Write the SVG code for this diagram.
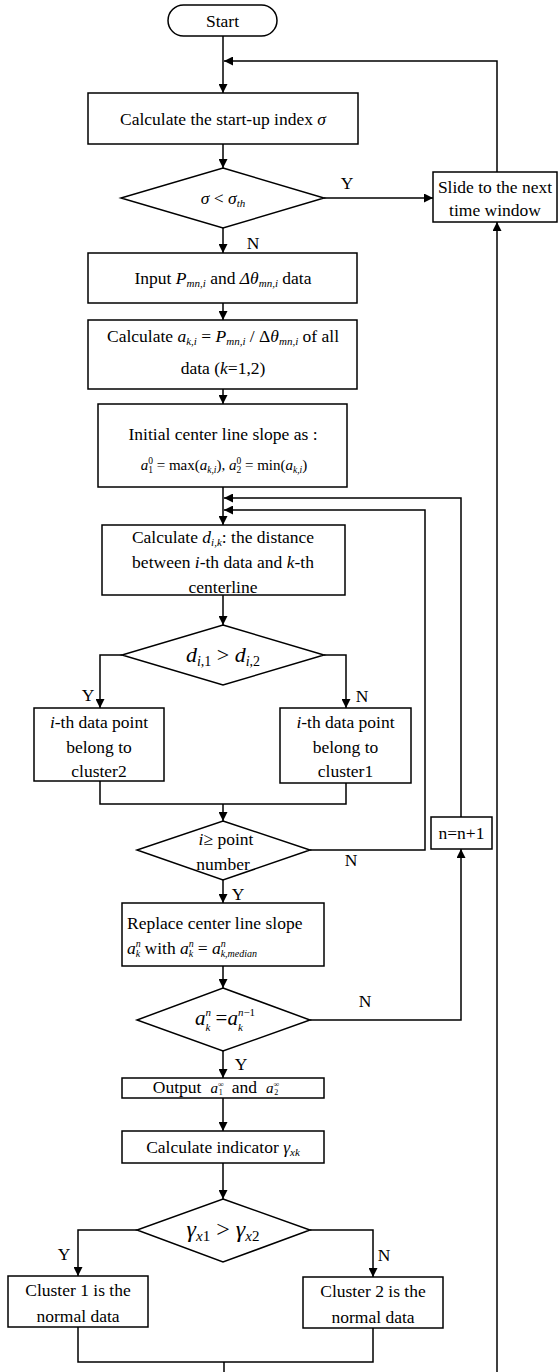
<svg xmlns="http://www.w3.org/2000/svg" width="558" height="1372" viewBox="0 0 558 1372">
<style>
.t{font-family:"Liberation Serif","Times New Roman",serif;font-size:17.5px;fill:#000}
.m{text-anchor:middle}
.i{font-style:italic}
.s{font-size:11px}
.b{fill:#fff;stroke:#000;stroke-width:1.5}
.ln{fill:none;stroke:#000;stroke-width:1.5}
</style>
<defs>
<marker id="ah" viewBox="0 0 10 10" refX="10" refY="5" markerWidth="9" markerHeight="9" markerUnits="userSpaceOnUse" orient="auto">
<path d="M0,0 L10,5 L0,10 z" fill="#000"/>
</marker>
</defs>

<g id="connectors" class="ln">
<path d="M223,36 V93" marker-end="url(#ah)"/>
<path d="M497,172 V61 H224" marker-end="url(#ah)"/>
<path d="M223,144 V168" marker-end="url(#ah)"/>
<path d="M324,198 H433" marker-end="url(#ah)"/>
<path d="M223,228 V253" marker-end="url(#ah)"/>
<path d="M223,303 V320" marker-end="url(#ah)"/>
<path d="M223,389 V404" marker-end="url(#ah)"/>
<path d="M223,487 V525" marker-end="url(#ah)"/>
<path d="M461,817 V498 H224" marker-end="url(#ah)"/>
<path d="M310,850 H425 V510 H224" marker-end="url(#ah)"/>
<path d="M223,595 V625" marker-end="url(#ah)"/>
<path d="M122,655 H100 V708" marker-end="url(#ah)"/>
<path d="M324,655 H346 V708" marker-end="url(#ah)"/>
<path d="M100,781 V804 H346 V783"/>
<path d="M223,804 V821" marker-end="url(#ah)"/>
<path d="M223,880 V903" marker-end="url(#ah)"/>
<path d="M223,966 V988" marker-end="url(#ah)"/>
<path d="M310,1020 H461 V849" marker-end="url(#ah)"/>
<path d="M223,1051 V1078" marker-end="url(#ah)"/>
<path d="M223,1098 V1131" marker-end="url(#ah)"/>
<path d="M223,1163 V1199" marker-end="url(#ah)"/>
<path d="M137,1230 H78 V1276" marker-end="url(#ah)"/>
<path d="M310,1230 H373 V1277" marker-end="url(#ah)"/>
<path d="M78,1327 V1362 H373 V1328"/>
<path d="M224,1362 V1372"/>
<path d="M497,1372 V222" marker-end="url(#ah)"/>
</g>

<g id="labels" class="t m">
<text x="347" y="189">Y</text>
<text x="253" y="249">N</text>
<text x="88" y="701">Y</text>
<text x="362" y="702">N</text>
<text x="351" y="866">N</text>
<text x="238" y="900">Y</text>
<text x="365" y="1007">N</text>
<text x="241" y="1070">Y</text>
<text x="64" y="1260">Y</text>
<text x="384" y="1261">N</text>
</g>

<g id="start">
<rect class="b" x="168" y="5" width="109" height="31" rx="15.5"/>
<text class="t m" x="222.5" y="27">Start</text>
</g>

<g id="calc-sigma">
<rect class="b" x="88" y="93" width="270" height="51"/>
<text class="t m" x="223" y="125">Calculate the start-up index <tspan class="i">σ</tspan></text>
</g>

<g id="dec-sigma">
<polygon class="b" points="223,168 324,198 223,228 121,198"/>
<text class="t m" x="223" y="204"><tspan class="i">σ</tspan> &lt; <tspan class="i">σ</tspan><tspan class="s i" dy="3">th</tspan></text>
</g>

<g id="slide">
<rect class="b" x="433" y="172" width="124" height="50"/>
<text class="t m" x="495" y="193">Slide to the next</text>
<text class="t m" x="495" y="216">time window</text>
</g>

<g id="input">
<rect class="b" x="88" y="253" width="269" height="50"/>
<text class="t m" x="223" y="284">Input <tspan class="i">P</tspan><tspan class="s i" dy="3">mn,i</tspan><tspan dy="-3"> and </tspan><tspan class="i">Δθ</tspan><tspan class="s i" dy="3">mn,i</tspan><tspan dy="-3"> data</tspan></text>
</g>

<g id="calc-a">
<rect class="b" x="88" y="320" width="269" height="69"/>
<text class="t m" x="223" y="342">Calculate <tspan class="i">a</tspan><tspan class="s i" dy="3">k,i</tspan><tspan dy="-3"> = </tspan><tspan class="i">P</tspan><tspan class="s i" dy="3">mn,i</tspan><tspan dy="-3"> / Δ</tspan><tspan class="i">θ</tspan><tspan class="s i" dy="3">mn,i</tspan><tspan dy="-3"> of all</tspan></text>
<text class="t m" x="223" y="374">data (<tspan class="i">k</tspan>=1,2)</text>
</g>

<g id="initial">
<rect class="b" x="98" y="404" width="249" height="83"/>
<text class="t m" x="223" y="440">Initial center line slope as :</text>
<text class="t m" x="224" y="470" style="font-size:15px"><tspan class="i">a</tspan><tspan style="font-size:9.5px" dy="-6">0</tspan><tspan style="font-size:9.5px" dx="-4.8" dy="9">1</tspan><tspan dy="-3"> = max(</tspan><tspan class="i">a</tspan><tspan class="i" style="font-size:9.5px" dy="3">k,i</tspan><tspan dy="-3">), </tspan><tspan class="i">a</tspan><tspan style="font-size:9.5px" dy="-6">0</tspan><tspan style="font-size:9.5px" dx="-4.8" dy="9">2</tspan><tspan dy="-3"> = min(</tspan><tspan class="i">a</tspan><tspan class="i" style="font-size:9.5px" dy="3">k,i</tspan><tspan dy="-3">)</tspan></text>
</g>

<g id="calc-d">
<rect class="b" x="102" y="525" width="243" height="70"/>
<text class="t m" x="223" y="543">Calculate <tspan class="i">d</tspan><tspan class="s i" dy="3">i,k</tspan><tspan dy="-3">: the distance</tspan></text>
<text class="t m" x="223" y="568">between <tspan class="i">i</tspan>-th data and <tspan class="i">k</tspan>-th</text>
<text class="t m" x="223" y="593">centerline</text>
</g>

<g id="dec-d">
<polygon class="b" points="223,625 324,655 223,685 122,655"/>
<text class="t m" x="223" y="662" style="font-size:22px"><tspan class="i">d</tspan><tspan style="font-size:14px" dy="4"><tspan class="i">i</tspan>,1</tspan><tspan dy="-4"> &gt; </tspan><tspan class="i">d</tspan><tspan style="font-size:14px" dy="4"><tspan class="i">i</tspan>,2</tspan></text>
</g>

<g id="cluster2">
<rect class="b" x="34" y="708" width="130" height="73"/>
<text class="t m" x="99" y="728"><tspan class="i">i</tspan>-th data point</text>
<text class="t m" x="99" y="753">belong to</text>
<text class="t m" x="99" y="777">cluster2</text>
</g>

<g id="cluster1">
<rect class="b" x="280" y="708" width="131" height="75"/>
<text class="t m" x="345.5" y="728"><tspan class="i">i</tspan>-th data point</text>
<text class="t m" x="345.5" y="753">belong to</text>
<text class="t m" x="345.5" y="777">cluster1</text>
</g>

<g id="dec-i">
<polygon class="b" points="223,821 310,850 223,880 137,850"/>
<text class="t m" x="226" y="845"><tspan class="i">i</tspan>≥ point</text>
<text class="t m" x="223" y="870">number</text>
</g>

<g id="n-inc">
<rect class="b" x="431" y="817" width="61" height="32"/>
<text class="t m" x="461.5" y="839">n=n+1</text>
</g>

<g id="replace">
<rect class="b" x="122" y="903" width="202" height="63"/>
<text class="t" x="127" y="929">Replace center line slope</text>
<text class="t" x="127" y="954"><tspan class="i">a</tspan><tspan class="i" style="font-size:10px" dy="-7">n</tspan><tspan class="i" style="font-size:10px" dx="-5" dy="10">k</tspan><tspan dy="-3"> with </tspan><tspan class="i">a</tspan><tspan class="i" style="font-size:10px" dy="-7">n</tspan><tspan class="i" style="font-size:10px" dx="-5" dy="10">k</tspan><tspan dy="-3"> = </tspan><tspan class="i">a</tspan><tspan class="i" style="font-size:10px" dy="-7">n</tspan><tspan class="i" style="font-size:10px" dx="-5" dy="10">k,median</tspan></text>
</g>

<g id="dec-a">
<polygon class="b" points="223,988 310,1020 223,1051 137,1020"/>
<text class="t m" x="225" y="1025" style="font-size:21px"><tspan class="i">a</tspan><tspan class="i" style="font-size:11px" dy="-9">n</tspan><tspan class="i" style="font-size:11px" dx="-5.5" dy="15">k</tspan><tspan dy="-6"> =</tspan><tspan class="i">a</tspan><tspan style="font-size:11px" dy="-9"><tspan class="i">n</tspan>−1</tspan><tspan class="i" style="font-size:11px" dx="-17" dy="15">k</tspan></text>
</g>

<g id="output">
<rect class="b" x="122" y="1078" width="202" height="20"/>
<text class="t m" x="216" y="1093">Output<tspan class="i" style="font-size:15px" dx="9">a</tspan><tspan style="font-size:8px" dy="-6">∞</tspan><tspan style="font-size:8px" dx="-5" dy="8">1</tspan><tspan dx="9" dy="-2">and</tspan><tspan class="i" style="font-size:15px" dx="9">a</tspan><tspan style="font-size:8px" dy="-6">∞</tspan><tspan style="font-size:8px" dx="-5" dy="8">2</tspan></text>
</g>

<g id="indicator">
<rect class="b" x="122" y="1131" width="202" height="32"/>
<text class="t m" x="223" y="1153">Calculate indicator <tspan class="i">γ</tspan><tspan class="s i" dy="3">xk</tspan></text>
</g>

<g id="dec-gamma">
<polygon class="b" points="223,1199 310,1230 223,1262 137,1230"/>
<text class="t m" x="223" y="1237" style="font-size:24px"><tspan class="i">γ</tspan><tspan style="font-size:15px" dy="4"><tspan class="i">x</tspan>1</tspan><tspan dy="-4"> &gt; </tspan><tspan class="i">γ</tspan><tspan style="font-size:15px" dy="4"><tspan class="i">x</tspan>2</tspan></text>
</g>

<g id="normal1">
<rect class="b" x="8" y="1276" width="140" height="51"/>
<text class="t m" x="78" y="1296">Cluster 1 is the</text>
<text class="t m" x="78" y="1322">normal data</text>
</g>

<g id="normal2">
<rect class="b" x="303" y="1277" width="140" height="51"/>
<text class="t m" x="373" y="1297">Cluster 2 is the</text>
<text class="t m" x="373" y="1323">normal data</text>
</g>
</svg>
